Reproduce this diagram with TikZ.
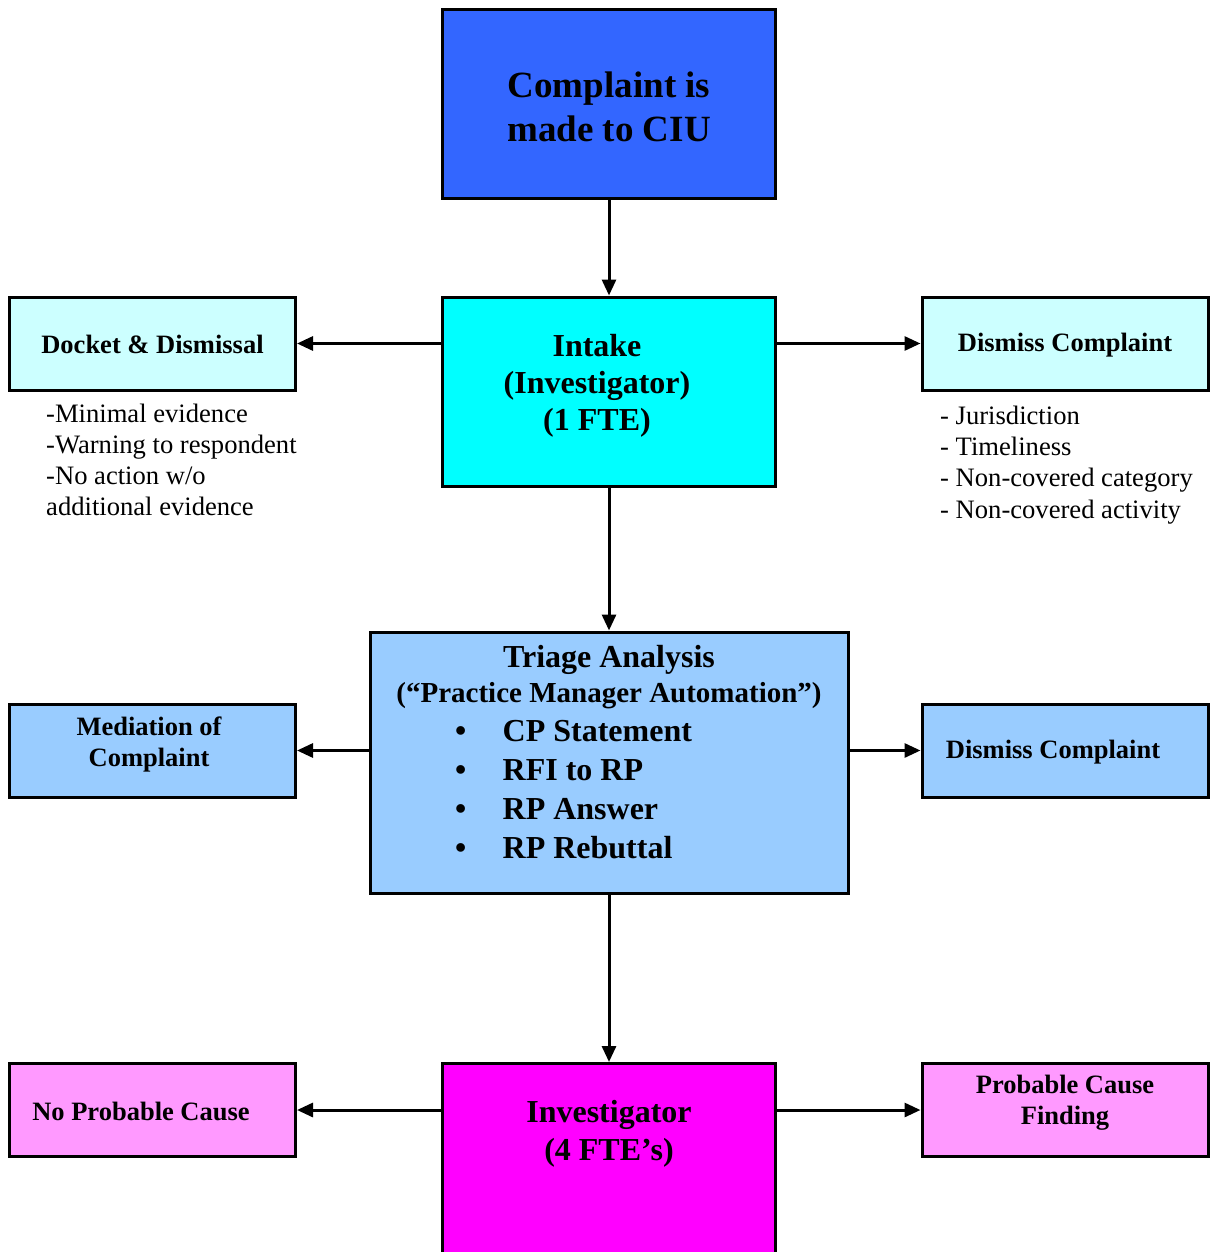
\documentclass[tikz,border=0pt]{standalone}
\usepackage{fontspec}
\setmainfont{Liberation Serif}
\usetikzlibrary{arrows.meta, positioning}
\definecolor{CIUBlue}{HTML}{3366FF}
\definecolor{CIUCyan}{HTML}{00FFFF}
\definecolor{CIUPaleCyan}{HTML}{CCFFFF}
\definecolor{CIUSky}{HTML}{99CCFF}
\definecolor{CIUMagenta}{HTML}{FF00FF}
\definecolor{CIUPink}{HTML}{FF99FF}
\tikzset{
    % Boxes with sharp corners
    stage/.style={
        rectangle,
        draw=black,
        line width=3pt,
        inner sep=0pt,
        minimum width=333pt
    },
    side stage/.style={
        stage,
        minimum width=286pt,
        minimum height=93pt
    },
    box text/.style={
        inner sep=0pt,
        align=center,
        font=\bfseries
    },
    note text/.style={
        inner sep=0pt,
        align=left,
        anchor=west,
        font=\fontsize{26.6}{31.2}\selectfont
    },
    arrow style/.style={
        -{Triangle[length=16pt,width=14pt]},
        line width=3pt,
        black
    }
}

\begin{document}
\begin{tikzpicture}[x=1pt, y=-1pt]
        \useasboundingbox (0,0) rectangle (1214,1252);
        \clip (0,0) rectangle (1214,1252);

        % Main column
        \node[stage, fill=CIUBlue, minimum height=189pt] (ciu) at (609, 104) {};
        \node[box text, font=\bfseries\fontsize{37}{44}\selectfont] (ciu text) at (609, 107) {Complaint is\\made to CIU};

        \node[stage, fill=CIUCyan, minimum height=189pt] (intake) at (609, 391.5) {};
        \node[box text, font=\bfseries\fontsize{32}{37}\selectfont] (intake text) at (597, 386) {Intake\\(Investigator)\\(1 FTE)};

        \node[stage, fill=CIUSky, minimum width=478pt, minimum height=261pt] (triage) at (609, 762.5) {};
        \node[box text, font=\bfseries\fontsize{32}{39}\selectfont] (triage text) at (609, 752) {
            Triage Analysis\\[-4pt]
            {\fontsize{29}{35}\selectfont (“Practice Manager Automation”)}\\
            \hbox to 308pt{\textbullet\hspace{36.5pt}CP Statement\hfil}\\
            \hbox to 308pt{\textbullet\hspace{36.5pt}RFI to RP\hfil}\\
            \hbox to 308pt{\textbullet\hspace{36.5pt}RP Answer\hfil}\\
            \hbox to 308pt{\textbullet\hspace{36.5pt}RP Rebuttal\hfil}
        };

        \node[stage, fill=CIUMagenta, minimum height=220pt] (investigator) at (609, 1173.5) {};
        \node[box text, font=\bfseries\fontsize{32}{38}\selectfont] (investigator text) at (609, 1134) {Investigator\\(4 FTE’s)};

        % Left column
        \node[side stage, fill=CIUPaleCyan] (docket) at (152.5, 343.5) {};
        \node[box text, font=\bfseries\fontsize{26.5}{31}\selectfont] (docket text) at (152.5, 344) {Docket \& Dismissal};
        \node[note text] (docket notes) at (46, 460) {-Minimal evidence\\-Warning to respondent\\-No action w/o\\additional evidence};

        \node[side stage, fill=CIUSky] (mediation) at (152.5, 750.5) {};
        \node[box text, font=\bfseries\fontsize{26.5}{31}\selectfont] (mediation text) at (149, 744) {Mediation of\\Complaint};

        \node[side stage, fill=CIUPink] (nopc) at (152.5, 1110) {};
        \node[box text, font=\bfseries\fontsize{26.5}{31}\selectfont] (nopc text) at (141, 1111) {No Probable Cause};

        % Right column
        \node[side stage, fill=CIUPaleCyan] (dismissA) at (1065, 343.5) {};
        \node[box text, font=\bfseries\fontsize{26.5}{31}\selectfont] (dismissA text) at (1065, 345) {Dismiss Complaint};
        \node[note text] (dismissA notes) at (940, 465) {- Jurisdiction\\- Timeliness\\- Non-covered category\\- Non-covered activity};

        \node[side stage, fill=CIUSky] (dismissB) at (1065, 750.5) {};
        \node[box text, font=\bfseries\fontsize{26.5}{31}\selectfont] (dismissB text) at (1053, 752) {Dismiss Complaint};

        \node[side stage, fill=CIUPink] (pc) at (1065, 1110) {};
        \node[box text, font=\bfseries\fontsize{26.5}{31}\selectfont] (pc text) at (1065, 1103) {Probable Cause\\Finding};

        % Arrows
        \draw[arrow style] (ciu.south) -- (intake.north);
        \draw[arrow style] (intake.south) -- (triage.north);
        \draw[arrow style] (triage.south) -- (investigator.north);

        \draw[arrow style] (intake.west |- docket.east) -- (docket.east);
        \draw[arrow style] (intake.east |- dismissA.west) -- (dismissA.west);
        \draw[arrow style] (triage.west |- mediation.east) -- (mediation.east);
        \draw[arrow style] (triage.east |- dismissB.west) -- (dismissB.west);
        \draw[arrow style] (investigator.west |- nopc.east) -- (nopc.east);
        \draw[arrow style] (investigator.east |- pc.west) -- (pc.west);
    \end{tikzpicture}
\end{document}
